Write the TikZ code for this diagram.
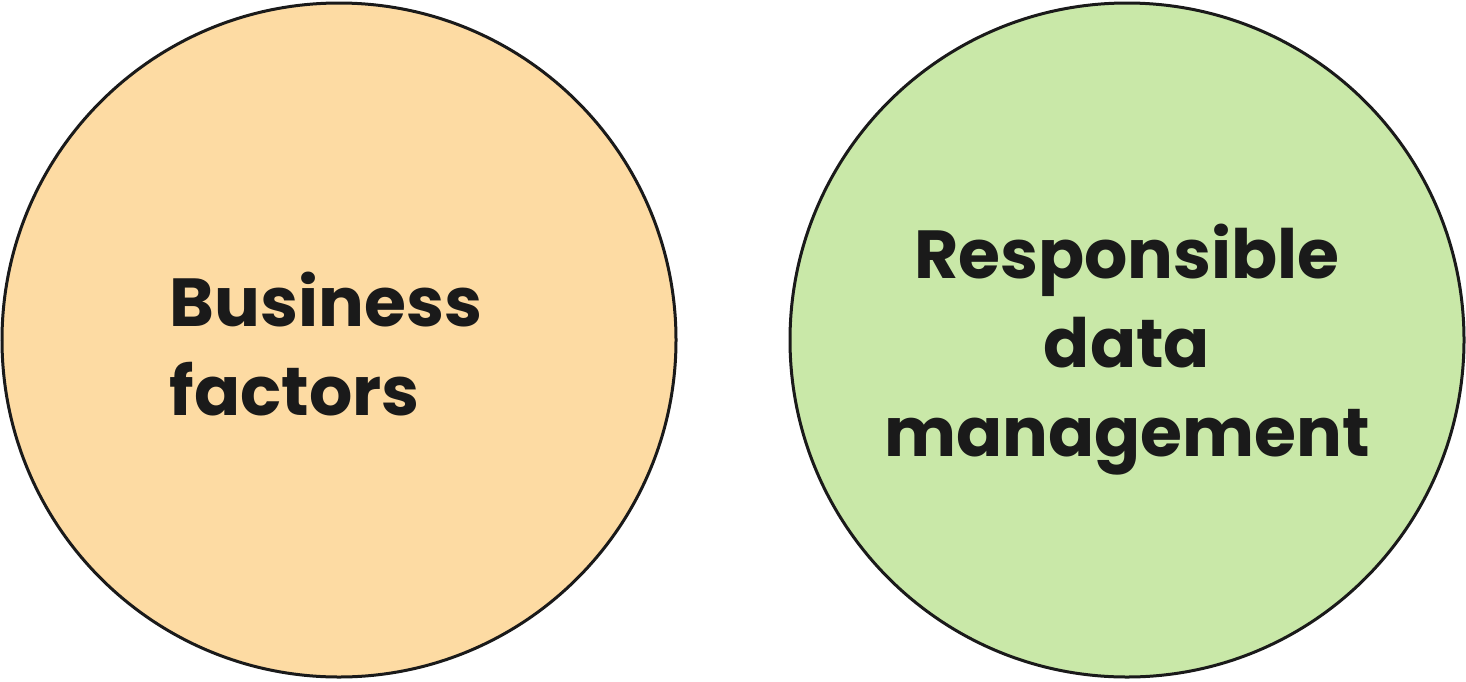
\documentclass[tikz,border=0pt]{standalone}
\usepackage{fontspec}
\setmainfont{Poppins}
\definecolor{orangefill}{HTML}{FDDBA3}
\definecolor{greenfill}{HTML}{C9E8A8}
\definecolor{ink}{HTML}{1A1A1A}
\begin{document}
\begin{tikzpicture}[x=1pt,y=-1pt,
  circ/.style={circle,draw=ink,line width=3pt,minimum size=674pt,inner sep=0pt},
  lbl/.style={font=\fontsize{68}{89}\selectfont\bfseries,text=ink}]
\useasboundingbox (0,0) rectangle (1466,681);
\node[circ,fill=orangefill] (c1) at (339,340) {};
\node[circ,fill=greenfill] (c2) at (1127,340) {};
\node[lbl,align=left] (t1) at (326,344) {Business\\factors};
\node[lbl,align=center] (t2) at (1127,350) {Responsible\\data\\management};
\end{tikzpicture}
\end{document}
